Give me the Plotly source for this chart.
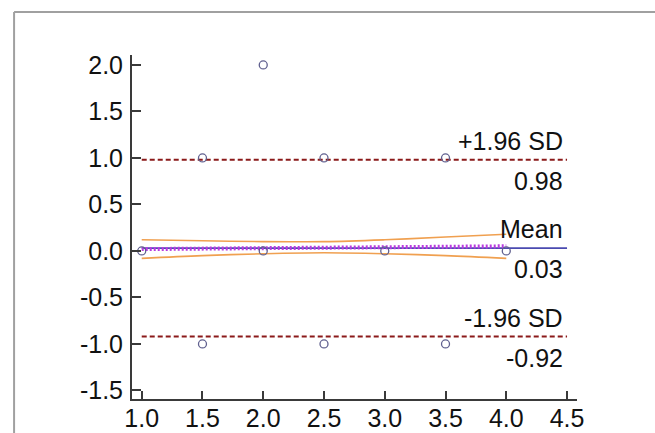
import plotly.graph_objects as go

# ---- data ----
point_x = [1.0, 1.5, 1.5, 2.0, 2.0, 2.5, 2.5, 3.0, 3.5, 3.5, 4.0]
point_y = [0.0, 1.0, -1.0, 2.0, 0.0, 1.0, -1.0, 0.0, 1.0, -1.0, 0.0]

line_x = [1.0, 4.5]            # extent of mean / SD lines
mean_diff = 0.03
upper_loa = 0.98
lower_loa = -0.92

reg_x = [1.0, 4.0]
reg_y = [0.02, 0.05]

ci_x = [1.0, 1.5, 2.0, 2.5, 3.0, 3.5, 4.0]
ci_upper = [0.12, 0.11, 0.10, 0.10, 0.12, 0.15, 0.18]
ci_lower = [-0.08, -0.05, -0.03, -0.02, -0.03, -0.05, -0.08]

x_ticks = [1.0, 1.5, 2.0, 2.5, 3.0, 3.5, 4.0, 4.5]
y_ticks = [-1.5, -1.0, -0.5, 0.0, 0.5, 1.0, 1.5, 2.0]
x_tick_text = [f"{v:.1f}" for v in x_ticks]
y_tick_text = [f"{v:.1f}" for v in y_ticks]

FONT = "Liberation Sans, Arial, sans-serif"
fig = go.Figure()

# confidence band (orange)
fig.add_trace(go.Scatter(x=ci_x, y=ci_upper, mode="lines",
                         line=dict(color="#F0A050", width=1.6, shape="spline")))
fig.add_trace(go.Scatter(x=ci_x, y=ci_lower, mode="lines",
                         line=dict(color="#F0A050", width=1.6, shape="spline")))

# limits of agreement
for v in (upper_loa, lower_loa):
    fig.add_trace(go.Scatter(x=line_x, y=[v, v], mode="lines",
                             line=dict(color="#8B1A1A", width=2, dash="5px,3px")))

# mean line
fig.add_trace(go.Scatter(x=line_x, y=[mean_diff, mean_diff], mode="lines",
                         line=dict(color="#4A4AB0", width=1.6)))
# regression line (purple hatched)
fig.add_trace(go.Scatter(x=reg_x, y=reg_y, mode="lines",
                         line=dict(color="#B83CE0", width=4, dash="2px,2px")))

# data points
fig.add_trace(go.Scatter(x=point_x, y=point_y, mode="markers",
                         marker=dict(symbol="circle-open", size=8,
                                     color="#60608F", line=dict(width=1.3))))

# labels
ann_font = dict(family=FONT, size=25, color="#111111")
labels = [
    (upper_loa, "+1.96 SD", f"{upper_loa:.2f}"),
    (mean_diff, "Mean", f"{mean_diff:.2f}"),
    (lower_loa, "-1.96 SD", f"{lower_loa:.2f}"),
]
for v, top, bottom in labels:
    fig.add_annotation(x=line_x[1], y=v, text=top, showarrow=False,
                       xanchor="right", yanchor="bottom", xshift=-2, yshift=3,
                       font=ann_font)
    fig.add_annotation(x=line_x[1], y=v, text=bottom, showarrow=False,
                       xanchor="right", yanchor="top", xshift=-2, yshift=-5,
                       font=ann_font)

# outer frame (decoration)
fig.add_shape(type="line", xref="paper", yref="paper", x0=-0.265, x1=2.0,
              y0=1.125, y1=1.125, line=dict(color="#A0A0A0", width=2))
fig.add_shape(type="line", xref="paper", yref="paper", x0=-0.265, x1=-0.265,
              y0=1.125, y1=-0.5, line=dict(color="#A0A0A0", width=2))

axis_common = dict(showgrid=False, zeroline=False, showline=True,
                   linecolor="#3A3A3A", linewidth=2, ticks="inside",
                   tickcolor="#3A3A3A", tickwidth=1.5, automargin=False)

fig.update_layout(
    width=655, height=433,
    margin=dict(l=132, r=78, t=55, b=34),
    paper_bgcolor="white", plot_bgcolor="white",
    showlegend=False,
    xaxis=dict(range=[0.92, 4.582], tickvals=x_ticks, ticktext=x_tick_text,
               ticklen=8, ticklabelstandoff=-4,
               tickfont=dict(family=FONT, size=25, color="#111111"),
               **axis_common),
    yaxis=dict(range=[-1.592, 2.107], tickvals=y_ticks, ticktext=y_tick_text,
               ticklen=9, ticklabelstandoff=2,
               tickfont=dict(family=FONT, size=25, color="#111111"),
               **axis_common),
)

fig.write_html("out.html",
               config={"displayModeBar": False},
               post_script="document.body.style.margin='0';")
